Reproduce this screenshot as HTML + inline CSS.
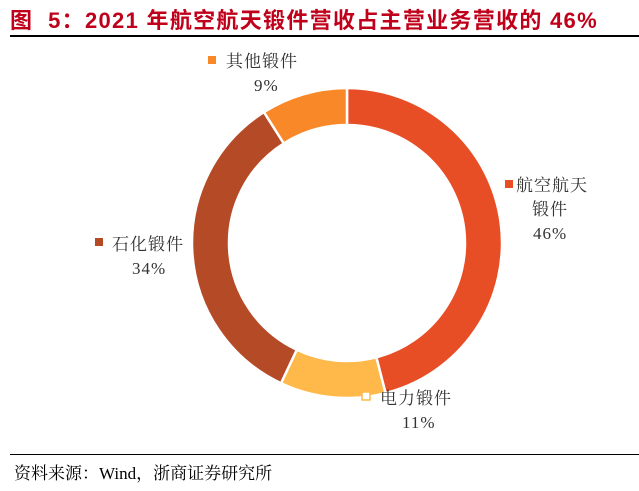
<!DOCTYPE html>
<html><head><meta charset="utf-8"><style>
body{margin:0;width:639px;height:491px;background:#fff;position:relative;overflow:hidden;font-family:"Liberation Sans","Noto Sans CJK SC",sans-serif}
.t{position:absolute;white-space:nowrap}
</style></head><body>
<div class="t" style="left:10px;top:3px;font-size:22px;font-weight:bold;color:#C0001A;letter-spacing:1.3px">图&nbsp; 5：2021 年航空航天锻件营收占主营业务营收的 46%</div>
<div style="position:absolute;left:10px;top:35px;width:629px;height:2px;background:#000"></div>
<svg id="c" width="639" height="491" style="position:absolute;left:0;top:0"></svg>
<div style="position:absolute;left:10px;top:454px;width:629px;height:1px;background:#000"></div>
<div class="t" style="left:14px;top:459px;font-size:17px;font-family:'Liberation Serif','Noto Serif CJK SC',serif;color:#000">资料来源：Wind，浙商证券研究所</div>
<script>
const categories=["航空航天锻件","电力锻件","石化锻件","其他锻件"];
const values=[46,11,34,9];
const labels=["46%","11%","34%","9%"];
const colors=["#E84E25","#FFB84A","#B54A26","#F98828"];
const cx=347,cy=243,R=155,r=118;
const svg=document.getElementById('c');const NS="http://www.w3.org/2000/svg";
const total=values.reduce((a,b)=>a+b,0);
function pt(a,rad){return [cx+rad*Math.sin(a),cy-rad*Math.cos(a)];}
let a0=0;
values.forEach((v,i)=>{
 const a1=a0+v/total*2*Math.PI;
 const [x1,y1]=pt(a0,R),[x2,y2]=pt(a1,R),[x3,y3]=pt(a1,r),[x4,y4]=pt(a0,r);
 const lg=(a1-a0)>Math.PI?1:0;
 const p=document.createElementNS(NS,'path');
 p.setAttribute('d',`M${x1},${y1}A${R},${R} 0 ${lg} 1 ${x2},${y2}L${x3},${y3}A${r},${r} 0 ${lg} 0 ${x4},${y4}Z`);
 p.setAttribute('fill',colors[i]);p.setAttribute('stroke','#fff');p.setAttribute('stroke-width','2.5');
 
 
 svg.appendChild(p);a0=a1;
});
const lab=[
 {x:516,y:191,lines:["航空航天","锻件","46%"],sq:[505,180],px:533},
 {x:380,y:404,lines:["电力锻件","11%"],sq:[362,392],hollow:true,px:402},
 {x:112,y:250,lines:["石化锻件","34%"],sq:[95,238],px:132},
 {x:226,y:67,lines:["其他锻件","9%"],sq:[208,56],px:254}
];
lab.forEach((L,i)=>{
 const s=document.createElementNS(NS,'rect');
 s.setAttribute('x',L.sq[0]);s.setAttribute('y',L.sq[1]);s.setAttribute('width',8);s.setAttribute('height',8);
 s.setAttribute('fill',L.hollow?'#fff':colors[i]);if(L.hollow){s.setAttribute('stroke',colors[i]);s.setAttribute('stroke-width','1.5');}
 
 
 svg.appendChild(s);
 const n=L.lines.length;
 L.lines.forEach((t,j)=>{
  const tx=document.createElementNS(NS,'text');
  const isPct=j==n-1;
  let x=L.x;
  if(isPct){x=L.px;}
  else if(j>0){x=L.x+16;}
  tx.setAttribute('x',x);tx.setAttribute('y',L.y+j*24);
  tx.setAttribute('font-size','17');tx.setAttribute('fill','#333');
  tx.setAttribute('letter-spacing','1');
  tx.setAttribute('font-family',"'Liberation Serif','Noto Serif CJK SC',serif");
  tx.textContent=isPct?labels[i]:t;
  
  
  svg.appendChild(tx);
 });
});
</script>
</body></html>
